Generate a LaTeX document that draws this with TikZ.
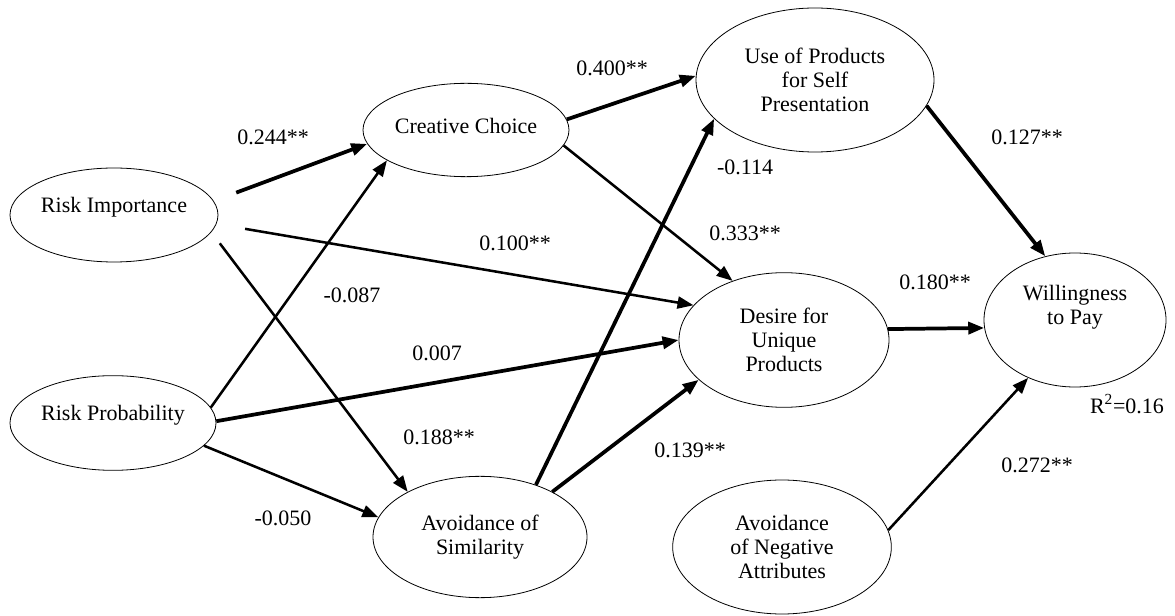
\documentclass[tikz,border=0pt]{standalone}
\usepackage{fontspec}
\setmainfont{Liberation Serif}
\usetikzlibrary{shapes.geometric,arrows.meta}

\tikzset{
  construct/.style={ellipse, draw, line width=0.6pt, inner sep=0pt, align=center},
  effect/.style={-{Triangle[length=12pt,width=9pt]}, line width=1.9pt},
  bigeffect/.style={effect, line width=2.8pt}
}

\begin{document}
\begin{tikzpicture}[x=0.75pt,y=-0.75pt,font=\fontsize{16.5pt}{18pt}\selectfont]
\path[use as bounding box, fill=white] (0,0) rectangle (1175,616);
% constructs
\node[construct, minimum width=156pt, minimum height=70.5pt] (ri) at (114,215) {\raisebox{6pt}[\height][\depth]{Risk Importance}};
\node[construct, minimum width=154.5pt, minimum height=71pt] (rp) at (113,423) {\raisebox{6pt}[\height][\depth]{Risk Probability}};
\node[construct, minimum width=154.5pt, minimum height=70pt] (cc) at (466,130) {\raisebox{3pt}[\height][\depth]{Creative Choice}};
\node[construct, minimum width=178.5pt, minimum height=108pt] (up) at (815,80) {Use of Products\\for Self\\Presentation};
\node[construct, minimum width=157.5pt, minimum height=101pt] (dp) at (784,340) {Desire for\\Unique\\Products};
\node[construct, minimum width=136.5pt, minimum height=100.5pt] (wp) at (1075,320) {\raisebox{9pt}[\height][\depth]{\begin{tabular}{@{}c@{}}Willingness\\to Pay\end{tabular}}};
\node[construct, minimum width=160.5pt, minimum height=91pt] (as) at (480,537) {Avoidance of\\Similarity};
\node[construct, minimum width=164pt, minimum height=100.5pt] (an) at (782,547) {Avoidance\\of Negative\\Attributes};
% paths
\draw[bigeffect, shorten <=18pt] (ri.8) -- (cc.188);
\draw[effect, shorten <=21.75pt] (ri.355.5) -- (dp.159);
\draw[effect, shorten <=10.5pt] (ri.350.5) -- (as.148);
\draw[effect] (rp.9.5) -- (cc.201);
\draw[bigeffect] (rp.1) -- (dp.west);
\draw[effect] (rp.346.3) -- (as.169);
\draw[bigeffect] (cc.6) -- (up.178);
\draw[effect] (cc.351) -- (dp.131);
\draw[bigeffect] (as.43.5) -- (up.201);
\draw[bigeffect] (as.32.5) -- (dp.205);
\draw[bigeffect] (up.347) -- (wp.115.5);
\draw[bigeffect] (dp.6) -- (wp.185);
\draw[effect] (an.9) -- (wp.231);
% coefficients
\foreach \nm/\x/\y/\lab in {e244/273/137/0.244**, e400/612/68/0.400**, e100/515/243/0.100**,
  e087/352/295/-0.087, e007/437/353/0.007, e188/439/437/0.188**, e050/283/518/-0.050,
  e114/745/167/-0.114, e333/745/233/0.333**, e127/1027/137/0.127**, e180/935/282/0.180**,
  e139/690/450/0.139**, e272/1037/465/0.272**}
  \node (\nm) at (\x,\y) {\lab};
\node (rsq) at (1127,404) {R\textsuperscript{2}=0.16};
\end{tikzpicture}
\end{document}
